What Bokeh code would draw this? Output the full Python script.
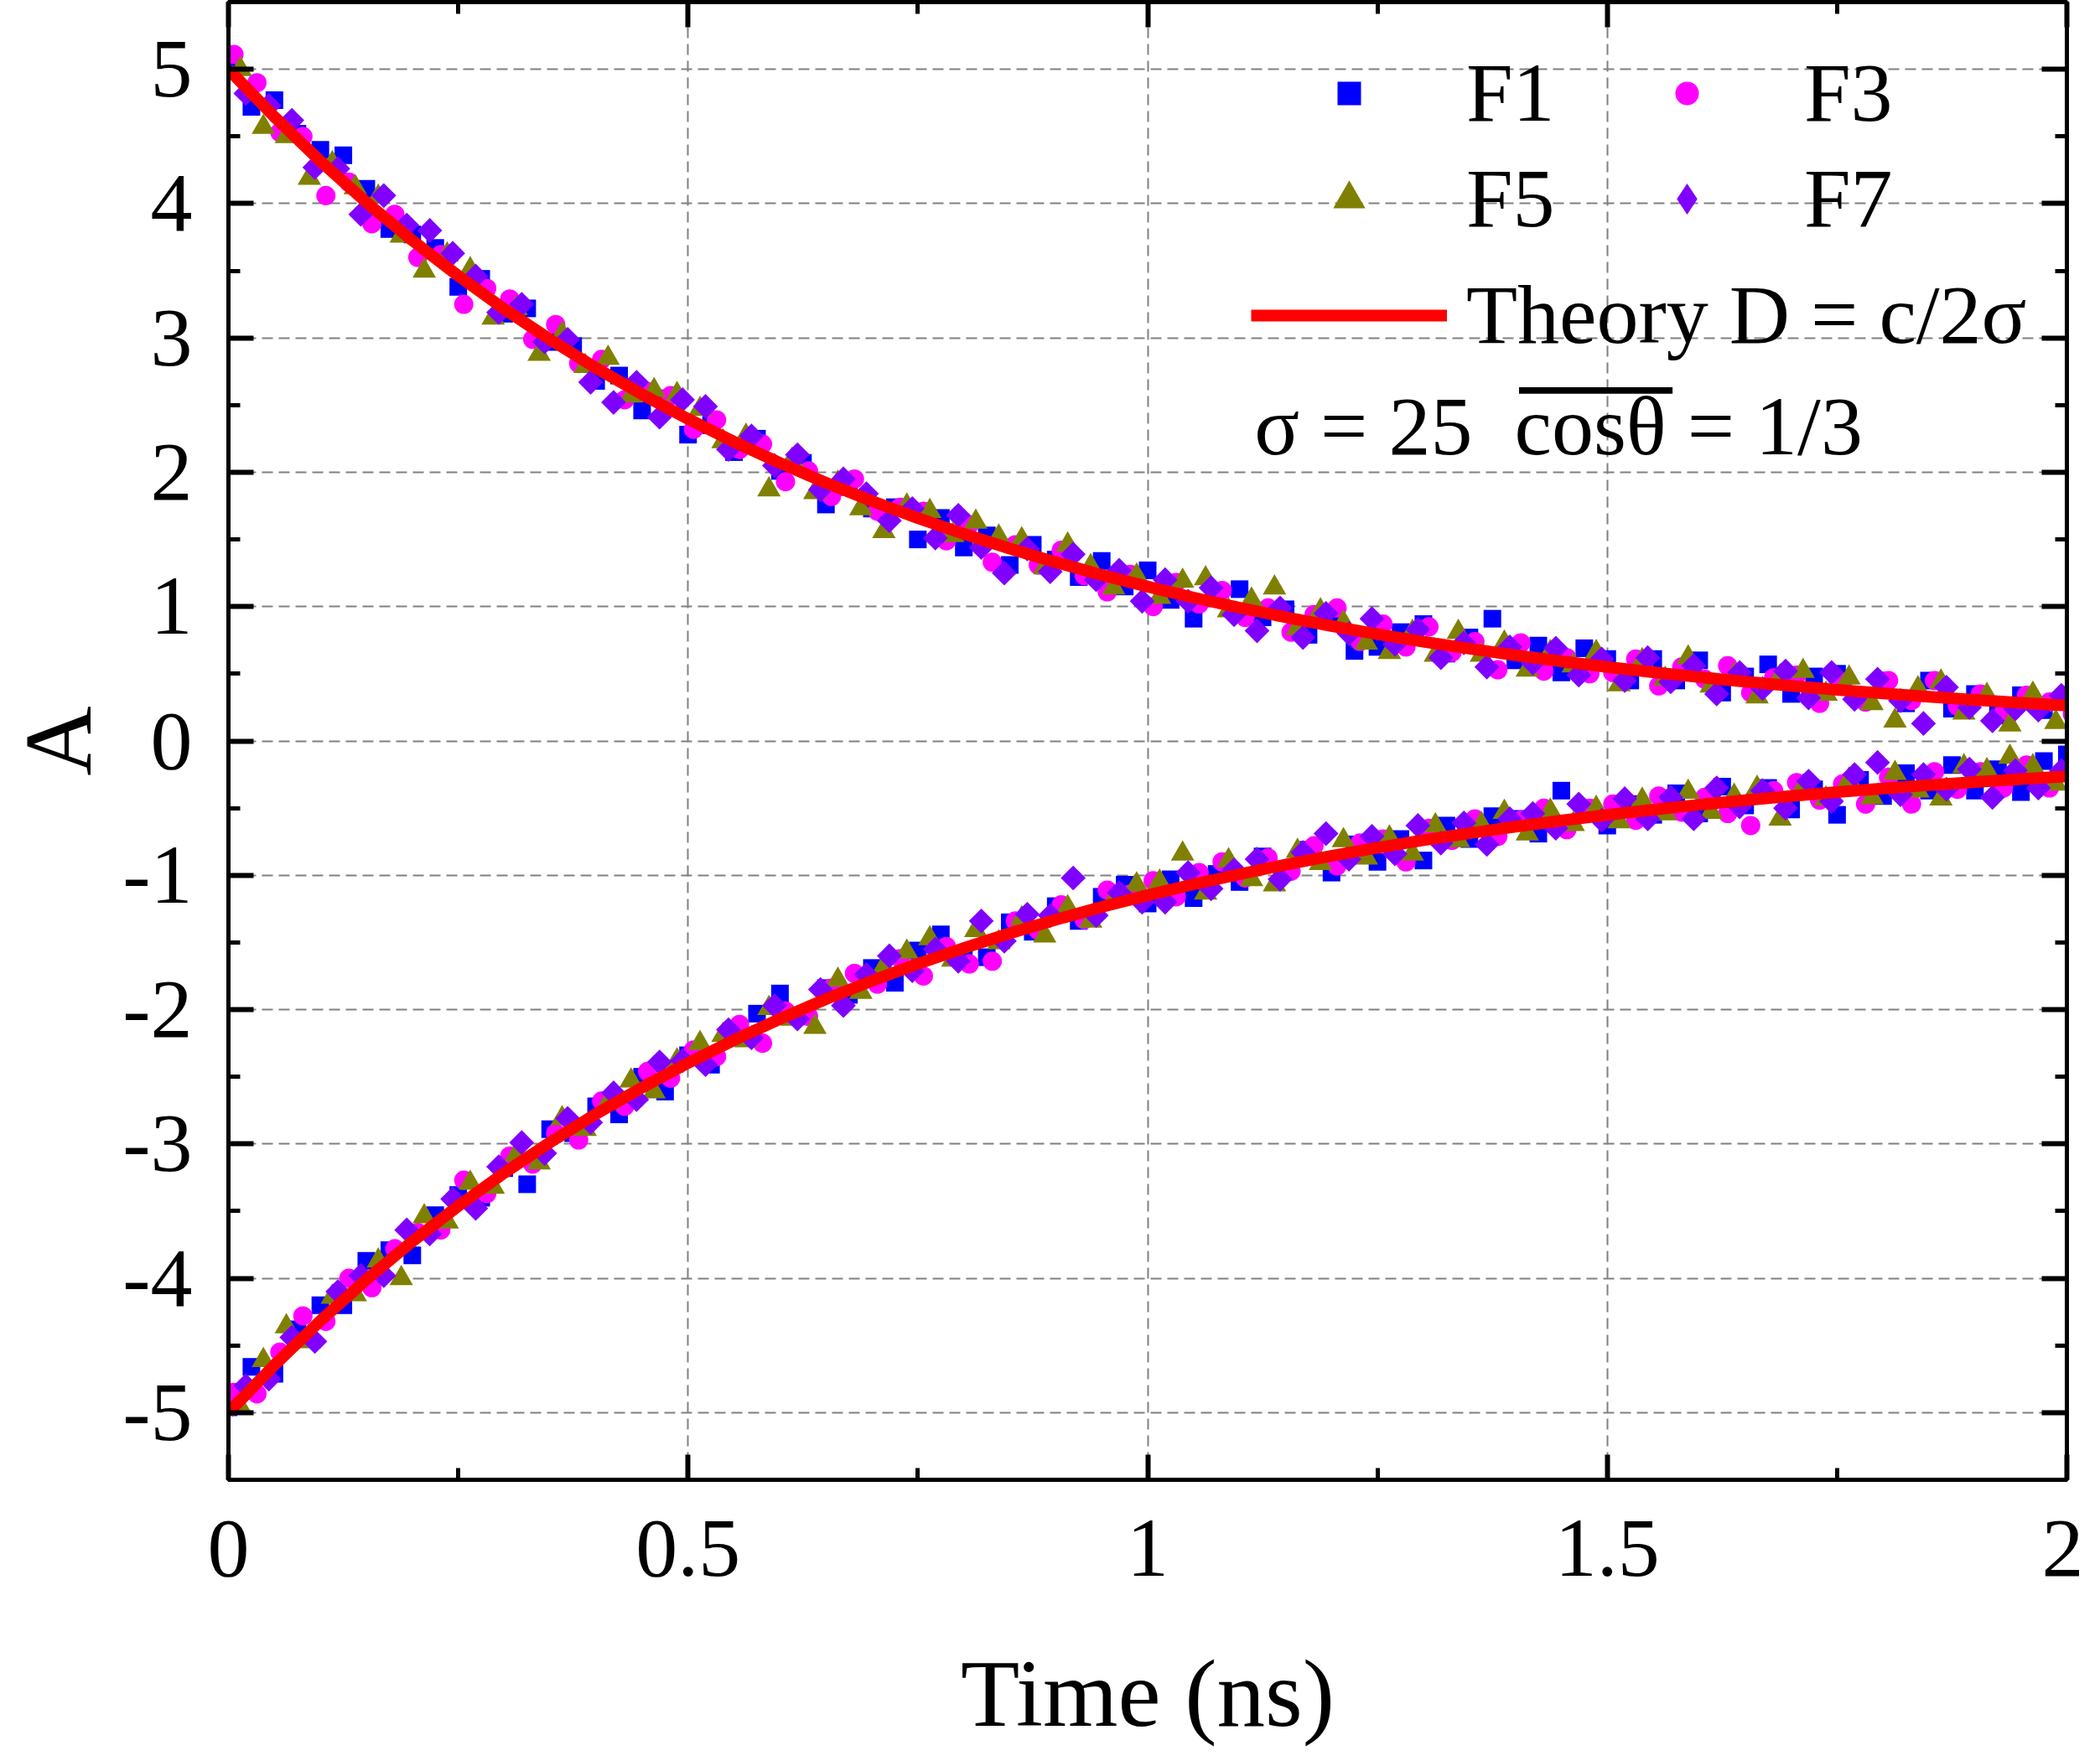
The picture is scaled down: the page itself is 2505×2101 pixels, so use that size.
import math
from bokeh.plotting import figure
from bokeh.models import (Range1d, LinearAxis, Legend, LegendItem, Label, BoxAnnotation,
                          SingleIntervalTicker, NumeralTickFormatter, CustomJSTickFormatter)
from bokeh.embed import file_html
from bokeh.resources import INLINE

# ---------------- data ----------------
t_F1 = [0.000, 0.025, 0.050, 0.075, 0.100, 0.125, 0.150, 0.175, 0.200, 0.225,
        0.250, 0.275, 0.300, 0.325, 0.350, 0.375, 0.400, 0.425, 0.450, 0.475,
        0.500, 0.525, 0.550, 0.575, 0.600, 0.625, 0.650, 0.675, 0.700, 0.725,
        0.750, 0.775, 0.800, 0.825, 0.850, 0.875, 0.900, 0.925, 0.950, 0.975,
        1.000, 1.025, 1.050, 1.075, 1.100, 1.125, 1.150, 1.175, 1.200, 1.225,
        1.250, 1.275, 1.300, 1.325, 1.350, 1.375, 1.400, 1.425, 1.450, 1.475,
        1.500, 1.525, 1.550, 1.575, 1.600, 1.625, 1.650, 1.675, 1.700, 1.725,
        1.750, 1.775, 1.800, 1.825, 1.850, 1.875, 1.900, 1.925, 1.950, 1.975, 2.000]
t_F3 = [0.006, 0.031, 0.056, 0.081, 0.106, 0.131, 0.156, 0.181, 0.206, 0.231,
        0.256, 0.281, 0.306, 0.331, 0.356, 0.381, 0.406, 0.431, 0.456, 0.481,
        0.506, 0.531, 0.556, 0.581, 0.606, 0.631, 0.656, 0.681, 0.706, 0.731,
        0.756, 0.781, 0.806, 0.831, 0.856, 0.881, 0.906, 0.931, 0.956, 0.981,
        1.006, 1.031, 1.056, 1.081, 1.106, 1.131, 1.156, 1.181, 1.206, 1.231,
        1.256, 1.281, 1.306, 1.331, 1.356, 1.381, 1.406, 1.431, 1.456, 1.481,
        1.506, 1.531, 1.556, 1.581, 1.606, 1.631, 1.656, 1.681, 1.706, 1.731,
        1.756, 1.781, 1.806, 1.831, 1.856, 1.881, 1.906, 1.931, 1.956, 1.981, 2.006]
t_F5 = [0.013, 0.038, 0.063, 0.088, 0.113, 0.138, 0.163, 0.188, 0.213, 0.238,
        0.263, 0.288, 0.313, 0.338, 0.363, 0.388, 0.413, 0.438, 0.463, 0.488,
        0.513, 0.538, 0.563, 0.588, 0.613, 0.638, 0.663, 0.688, 0.713, 0.738,
        0.763, 0.788, 0.813, 0.838, 0.863, 0.888, 0.913, 0.938, 0.963, 0.988,
        1.013, 1.038, 1.063, 1.088, 1.113, 1.138, 1.163, 1.188, 1.213, 1.238,
        1.263, 1.288, 1.313, 1.338, 1.363, 1.388, 1.413, 1.438, 1.463, 1.488,
        1.513, 1.538, 1.563, 1.588, 1.613, 1.638, 1.663, 1.688, 1.713, 1.738,
        1.763, 1.788, 1.813, 1.838, 1.863, 1.888, 1.913, 1.938, 1.963, 1.988, 2.013]
t_F7 = [0.019, 0.044, 0.069, 0.094, 0.119, 0.144, 0.169, 0.194, 0.219, 0.244,
        0.269, 0.294, 0.319, 0.344, 0.369, 0.394, 0.419, 0.444, 0.469, 0.494,
        0.519, 0.544, 0.569, 0.594, 0.619, 0.644, 0.669, 0.694, 0.719, 0.744,
        0.769, 0.794, 0.819, 0.844, 0.869, 0.894, 0.919, 0.944, 0.969, 0.994,
        1.019, 1.044, 1.069, 1.094, 1.119, 1.144, 1.169, 1.194, 1.219, 1.244,
        1.269, 1.294, 1.319, 1.344, 1.369, 1.394, 1.419, 1.444, 1.469, 1.494,
        1.519, 1.544, 1.569, 1.594, 1.619, 1.644, 1.669, 1.694, 1.719, 1.744,
        1.769, 1.794, 1.819, 1.844, 1.869, 1.894, 1.919, 1.944, 1.969, 1.994, 2.019]

F1_upper = [5.06, 4.72, 4.77, 4.52, 4.40, 4.36, 4.11, 3.81, 3.77, 3.67,
            3.38, 3.44, 3.18, 3.22, 2.97, 2.94, 2.68, 2.72, 2.46, 2.55,
            2.28, 2.35, 2.15, 2.25, 2.01, 2.07, 1.76, 1.89, 1.73, 1.74,
            1.50, 1.66, 1.44, 1.53, 1.31, 1.46, 1.35, 1.22, 1.34, 1.15,
            1.27, 1.05, 0.91, 1.11, 1.13, 0.92, 0.98, 0.79, 0.90, 0.67,
            0.70, 0.81, 0.87, 0.65, 0.77, 0.91, 0.60, 0.71, 0.51, 0.69,
            0.61, 0.45, 0.61, 0.45, 0.60, 0.36, 0.48, 0.57, 0.35, 0.48,
            0.50, 0.33, 0.45, 0.28, 0.45, 0.24, 0.35, 0.19, 0.34, 0.23, 0.34]
F3_upper = [5.11, 4.90, 4.53, 4.50, 4.06, 4.16, 3.85, 3.92, 3.60, 3.62,
            3.25, 3.37, 3.29, 2.99, 3.10, 2.81, 2.84, 2.54, 2.60, 2.57,
            2.32, 2.39, 2.17, 2.21, 1.93, 2.01, 1.82, 1.95, 1.71, 1.74,
            1.71, 1.49, 1.61, 1.33, 1.46, 1.31, 1.42, 1.23, 1.11, 1.24,
            1.00, 1.18, 1.02, 1.12, 0.92, 0.99, 0.81, 0.94, 0.99, 0.74,
            0.87, 0.70, 0.85, 0.66, 0.74, 0.53, 0.73, 0.52, 0.62, 0.50,
            0.51, 0.61, 0.41, 0.55, 0.46, 0.56, 0.36, 0.47, 0.49, 0.28,
            0.44, 0.29, 0.45, 0.30, 0.45, 0.26, 0.35, 0.21, 0.34, 0.29, 0.20]
F5_upper = [5.00, 4.57, 4.50, 4.19, 4.30, 4.12, 4.05, 3.76, 3.50, 3.62,
            3.51, 3.15, 3.22, 2.88, 3.03, 2.79, 2.85, 2.57, 2.61, 2.58,
            2.47, 2.23, 2.27, 1.87, 2.09, 1.85, 1.92, 1.73, 1.56, 1.75,
            1.71, 1.53, 1.63, 1.52, 1.50, 1.29, 1.46, 1.30, 1.14, 1.23,
            1.07, 1.19, 1.21, 0.97, 1.05, 1.14, 0.84, 0.97, 0.88, 0.73,
            0.66, 0.81, 0.64, 0.81, 0.64, 0.73, 0.53, 0.66, 0.56, 0.66,
            0.42, 0.60, 0.46, 0.62, 0.41, 0.49, 0.33, 0.48, 0.52, 0.35,
            0.47, 0.28, 0.15, 0.39, 0.44, 0.21, 0.34, 0.12, 0.35, 0.14, 0.19]
F7_upper = [4.82, 4.73, 4.62, 4.27, 4.26, 3.92, 4.06, 3.84, 3.80, 3.63,
            3.46, 3.19, 3.25, 2.97, 2.99, 2.67, 2.52, 2.67, 2.41, 2.54,
            2.49, 2.17, 2.27, 2.05, 2.13, 1.87, 1.95, 1.84, 1.64, 1.73,
            1.51, 1.68, 1.44, 1.25, 1.43, 1.26, 1.39, 1.20, 1.27, 1.04,
            1.20, 1.04, 1.14, 0.94, 0.82, 0.99, 0.77, 0.95, 0.80, 0.91,
            0.72, 0.83, 0.62, 0.73, 0.55, 0.70, 0.58, 0.69, 0.49, 0.61,
            0.45, 0.62, 0.44, 0.56, 0.35, 0.51, 0.39, 0.52, 0.32, 0.51,
            0.31, 0.46, 0.30, 0.13, 0.40, 0.25, 0.15, 0.24, 0.23, 0.34, 0.37]

F1_lower = [-4.96, -4.66, -4.71, -4.38, -4.20, -4.20, -3.87, -3.79, -3.83, -3.53,
            -3.38, -3.40, -3.18, -3.30, -2.89, -2.92, -2.72, -2.78, -2.50, -2.61,
            -2.34, -2.41, -2.19, -2.03, -1.88, -2.05, -1.84, -1.89, -1.69, -1.80,
            -1.56, -1.44, -1.60, -1.61, -1.35, -1.42, -1.23, -1.34, -1.16, -1.07,
            -1.21, -1.03, -1.17, -0.99, -1.05, -0.86, -0.96, -0.81, -0.98, -0.77,
            -0.90, -0.73, -0.89, -0.63, -0.73, -0.56, -0.58, -0.69, -0.37, -0.53,
            -0.63, -0.47, -0.55, -0.39, -0.54, -0.34, -0.48, -0.35, -0.51, -0.36,
            -0.55, -0.29, -0.41, -0.24, -0.37, -0.18, -0.37, -0.21, -0.38, -0.15, -0.10]
F3_lower = [-4.85, -4.86, -4.55, -4.28, -4.32, -4.00, -4.07, -3.78, -3.66, -3.64,
            -3.27, -3.37, -3.09, -3.15, -2.92, -2.97, -2.68, -2.72, -2.46, -2.51,
            -2.30, -2.35, -2.11, -2.25, -2.01, -2.05, -1.84, -1.73, -1.81, -1.62,
            -1.75, -1.53, -1.66, -1.64, -1.34, -1.41, -1.22, -1.33, -1.11, -1.14,
            -1.04, -1.16, -0.98, -0.90, -1.02, -0.87, -0.97, -0.78, -0.93, -0.76,
            -0.73, -0.90, -0.65, -0.74, -0.58, -0.71, -0.59, -0.50, -0.66, -0.50,
            -0.47, -0.59, -0.41, -0.53, -0.42, -0.54, -0.63, -0.37, -0.31, -0.44,
            -0.32, -0.47, -0.27, -0.47, -0.23, -0.36, -0.23, -0.35, -0.18, -0.35, -0.20]
F5_lower = [-4.96, -4.61, -4.36, -4.47, -4.14, -4.12, -3.87, -4.00, -3.54, -3.58,
            -3.29, -3.32, -3.08, -3.14, -2.81, -2.89, -2.69, -2.53, -2.61, -2.38,
            -2.25, -2.19, -2.23, -1.99, -2.07, -2.13, -1.78, -1.87, -1.68, -1.57,
            -1.47, -1.63, -1.41, -1.50, -1.32, -1.45, -1.24, -1.34, -1.18, -1.07,
            -1.05, -0.84, -1.13, -0.89, -1.03, -1.07, -0.82, -0.91, -0.74, -0.87,
            -0.72, -0.84, -0.63, -0.74, -0.62, -0.53, -0.69, -0.52, -0.62, -0.50,
            -0.60, -0.44, -0.54, -0.38, -0.53, -0.41, -0.35, -0.58, -0.34, -0.43,
            -0.29, -0.42, -0.24, -0.37, -0.43, -0.19, -0.22, -0.12, -0.19, -0.32, -0.15]
F7_lower = [-4.80, -4.75, -4.44, -4.47, -4.10, -3.98, -3.98, -3.64, -3.67, -3.41,
            -3.48, -3.17, -2.99, -3.07, -2.81, -2.84, -2.62, -2.67, -2.39, -2.38,
            -2.41, -2.15, -2.21, -1.97, -2.07, -1.85, -1.97, -1.74, -1.60, -1.71,
            -1.55, -1.64, -1.34, -1.49, -1.29, -1.30, -1.02, -1.30, -1.13, -1.20,
            -1.20, -0.98, -1.10, -0.96, -0.88, -1.03, -0.83, -0.69, -0.88, -0.71,
            -0.84, -0.63, -0.76, -0.61, -0.77, -0.58, -0.54, -0.65, -0.47, -0.59,
            -0.43, -0.58, -0.42, -0.58, -0.35, -0.49, -0.37, -0.50, -0.30, -0.45,
            -0.25, -0.16, -0.40, -0.25, -0.36, -0.21, -0.42, -0.22, -0.35, -0.22, -0.09]

theory_t = [0.00, 0.05, 0.10, 0.15, 0.20, 0.25, 0.30, 0.35, 0.40, 0.45,
            0.50, 0.55, 0.60, 0.65, 0.70, 0.75, 0.80, 0.85, 0.90, 0.95,
            1.00, 1.05, 1.10, 1.15, 1.20, 1.25, 1.30, 1.35, 1.40, 1.45,
            1.50, 1.55, 1.60, 1.65, 1.70, 1.75, 1.80, 1.85, 1.90, 1.95, 2.00]
theory_upper = [5.000, 4.646, 4.316, 4.010, 3.726, 3.462, 3.216, 2.988, 2.776, 2.580,
                2.397, 2.227, 2.069, 1.922, 1.786, 1.659, 1.542, 1.432, 1.331, 1.236,
                1.149, 1.067, 0.992, 0.921, 0.856, 0.795, 0.739, 0.687, 0.638, 0.593,
                0.551, 0.512, 0.475, 0.442, 0.410, 0.381, 0.354, 0.329, 0.306, 0.284, 0.264]
theory_lower = [-5.000, -4.646, -4.316, -4.010, -3.726, -3.462, -3.216, -2.988, -2.776, -2.580,
                -2.397, -2.227, -2.069, -1.922, -1.786, -1.659, -1.542, -1.432, -1.331, -1.236,
                -1.149, -1.067, -0.992, -0.921, -0.856, -0.795, -0.739, -0.687, -0.638, -0.593,
                -0.551, -0.512, -0.475, -0.442, -0.410, -0.381, -0.354, -0.329, -0.306, -0.284, -0.264]

series_labels = ["F1", "F3", "F5", "F7"]
theory_label = "Theory D = c/2\u03c3"
param_text = "\u03c3 = 25 \u00a0cos\u03b8 = 1/3"

# ---------------- figure ----------------
FONT = "Liberation Serif"
p = figure(frame_width=2193, frame_height=1763, output_backend="svg", toolbar_location=None,
           x_range=Range1d(0, 2), y_range=Range1d(-5.5, 5.5),
           min_border_left=272, min_border_right=20, min_border_top=2, min_border_bottom=300)
p.background_fill_color = "white"
p.border_fill_color = "white"
p.outline_line_color = "black"
p.outline_line_width = 5

xt = SingleIntervalTicker(interval=0.5, num_minor_ticks=2)
yt = SingleIntervalTicker(interval=1, num_minor_ticks=2)


def style_axis(ax):
    ax.axis_line_width = 5
    ax.axis_line_color = "black"
    ax.major_tick_line_width = 6
    ax.minor_tick_line_width = 5
    ax.major_tick_in = 30
    ax.major_tick_out = 0
    ax.minor_tick_in = 14
    ax.minor_tick_out = 0
    ax.major_label_text_font = FONT
    ax.major_label_text_color = "black"
    ax.major_label_text_font_size = "100px"
    ax.axis_label_text_font = FONT
    ax.axis_label_text_font_size = "115px"
    ax.axis_label_text_font_style = "normal"
    ax.axis_label_text_color = "black"


xa = p.xaxis[0]
xa.ticker = xt
style_axis(xa)
xa.formatter = NumeralTickFormatter(format="0.[0]")
xa.major_label_standoff = 49
xa.axis_label = "Time (ns)"
xa.axis_label_standoff = 74

ya = p.yaxis[0]
ya.ticker = yt
style_axis(ya)
ya.formatter = NumeralTickFormatter(format="0")
ya.major_label_standoff = 43
ya.axis_label = "A"
ya.axis_label_standoff = 10

blank = CustomJSTickFormatter(code="return ''")
top_ax = LinearAxis(ticker=xt, formatter=blank, major_label_standoff=0)
style_axis(top_ax)
p.add_layout(top_ax, "above")
right_ax = LinearAxis(ticker=yt, formatter=blank, major_label_standoff=0)
style_axis(right_ax)
p.add_layout(right_ax, "right")

for g in (p.xgrid[0], p.ygrid[0]):
    g.grid_line_color = "#808080"
    g.grid_line_width = 2
    g.grid_line_dash = "13 7"

# ---------------- data renderers ----------------
r1 = p.scatter(t_F1, F1_upper, marker="square", size=21, fill_color="#0000FF", line_color=None)
p.scatter(t_F1, F1_lower, marker="square", size=21, fill_color="#0000FF", line_color=None)
r3 = p.scatter(t_F3, F3_upper, marker="circle", size=23, fill_color="#FF00FF", line_color=None)
p.scatter(t_F3, F3_lower, marker="circle", size=23, fill_color="#FF00FF", line_color=None)
r5 = p.scatter(t_F5, F5_upper, marker="triangle", size=28, fill_color="#808000", line_color=None)
p.scatter(t_F5, F5_lower, marker="triangle", size=28, fill_color="#808000", line_color=None)
p.scatter(t_F7, F7_upper, marker="square", angle=math.pi / 4, size=21,
          fill_color="#8000FF", line_color=None)
p.scatter(t_F7, F7_lower, marker="square", angle=math.pi / 4, size=21,
          fill_color="#8000FF", line_color=None)
# legend key for F7 (diamond shape); a single NaN point so nothing shows in the plot
r7 = p.scatter([float("nan")], [float("nan")], marker="diamond", size=22,
               fill_color="#8000FF", line_color=None)
rt = p.line(theory_t, theory_upper, line_color="#FF0000", line_width=14, line_join="round")
p.line(theory_t, theory_lower, line_color="#FF0000", line_width=14, line_join="round")

# ---------------- legends (one per key so each key gets its own size) ----------------
def make_legend(label, renderer, glyph_h, loc):
    return Legend(items=[LegendItem(label=label, renderers=[renderer])],
                  border_line_color=None, background_fill_alpha=0, padding=0, margin=0,
                  spacing=0, glyph_width=234, glyph_height=glyph_h, label_standoff=23,
                  label_height=100, label_width=133,
                  label_text_font=FONT, label_text_font_size="100px",
                  label_text_color="black", location=loc)


for leg in (make_legend(series_labels[0], r1, 70, (1220, 1597)),
            make_legend(series_labels[1], r3, 70, (1623, 1597)),
            make_legend(series_labels[2], r5, 96, (1220, 1471)),
            make_legend(series_labels[3], r7, 92, (1623, 1471)),
            make_legend(theory_label, rt, 70, (1220, 1332))):
    p.add_layout(leg, "center")

# parameter annotation with overline on cos(theta)
p.add_layout(Label(x=1.116, y=2.34, text=param_text,
                   text_font=FONT, text_font_size="100px", text_color="black",
                   text_baseline="alphabetic", text_align="left"))
p.add_layout(BoxAnnotation(left=1.404, right=1.571, bottom=2.585, top=2.633,
                           fill_color="black", fill_alpha=1.0, line_color=None))

open("out.html", "w").write(file_html(p, INLINE))
